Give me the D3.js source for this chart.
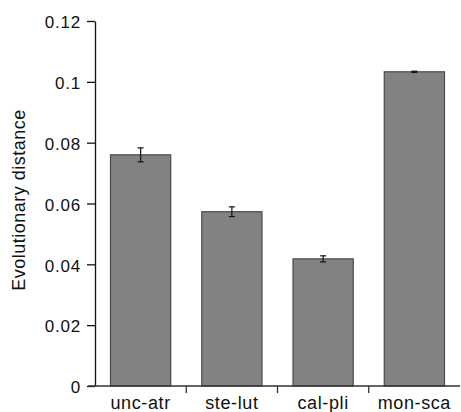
<!DOCTYPE html>
<html>
<head>
<meta charset="utf-8">
<script src="https://cdn.jsdelivr.net/npm/d3@7"></script>
<style>
	body { margin: 0; background: #fff; }
	text { font-family: "Liberation Sans", Arial, sans-serif; fill: #111; }
</style>
</head>
<body>
<svg id="chart" width="461" height="412"></svg>
<script>
var pairs = ["unc-atr", "ste-lut", "cal-pli", "mon-sca"];
var distance = [0.0760, 0.0573, 0.0418, 0.1033];
var errors = [0.0023, 0.0016, 0.0010, 0.0002];
var yTicks = [0, 0.02, 0.04, 0.06, 0.08, 0.1, 0.12];

var svg = d3.select("#chart");
var mLeft = 95, mRight = 460, mTop = 21, mBottom = 386;

var x = d3.scaleBand()
	.domain(pairs)
	.range([mLeft, mRight])
	.paddingInner(0.34)
	.paddingOuter(0.17);
var y = d3.scaleLinear().domain([0, 0.12]).range([mBottom, mTop]);

// bars
svg.selectAll(".bar")
	.data(pairs)
	.enter()
	.append("rect")
	.attr("class", "bar")
	.attr("x", function(d){ return x(d); })
	.attr("y", function(d, i){ return y(distance[i]); })
	.attr("width", x.bandwidth())
	.attr("height", function(d, i){ return y(0) - y(distance[i]); })
	.attr("fill", "#828282")
	.attr("stroke", "#4a4a4a")
	.attr("stroke-width", 1.2);

// error bars
var err = svg.selectAll(".err")
	.data(pairs)
	.enter()
	.append("g")
	.attr("class", "err")
	.attr("stroke", "#111")
	.attr("stroke-width", 1.2);
err.append("line")
	.attr("x1", function(d){ return x(d) + x.bandwidth() / 2; })
	.attr("x2", function(d){ return x(d) + x.bandwidth() / 2; })
	.attr("y1", function(d, i){ return y(distance[i] + errors[i]); })
	.attr("y2", function(d, i){ return y(distance[i] - errors[i]); });
[1, -1].forEach(function(s){
	err.append("line")
		.attr("x1", function(d){ return x(d) + x.bandwidth() / 2 - 3; })
		.attr("x2", function(d){ return x(d) + x.bandwidth() / 2 + 3; })
		.attr("y1", function(d, i){ return y(distance[i] + s * errors[i]); })
		.attr("y2", function(d, i){ return y(distance[i] + s * errors[i]); });
});

// y axis
var yAxis = svg.append("g")
	.attr("transform", "translate(" + mLeft + ",0)")
	.call(d3.axisLeft(y).tickValues(yTicks).tickSize(8).tickSizeOuter(0)
		.tickFormat(function(d){ return d === 0 ? "0" : String(+d.toFixed(2)); }));
yAxis.selectAll("text")
	.style("font-size", "17px")
	.style("letter-spacing", "0.8px")
	.attr("x", -14)
	.attr("dy", "0.4em");
yAxis.select(".domain").attr("stroke", "#111").attr("stroke-width", 1.3);
yAxis.selectAll(".tick line").attr("stroke", "#111").attr("stroke-width", 1.3);

// x axis
var xAxis = svg.append("g")
	.attr("transform", "translate(0," + mBottom + ")");
xAxis.append("line")
	.attr("x1", mLeft - 7).attr("x2", mRight)
	.attr("stroke", "#333").attr("stroke-width", 1.3);
xAxis.selectAll(".sep")
	.data(pairs.slice(1))
	.enter()
	.append("line")
	.attr("x1", function(d){ return x(d) - x.step() * x.paddingInner() / 2; })
	.attr("x2", function(d){ return x(d) - x.step() * x.paddingInner() / 2; })
	.attr("y1", 0).attr("y2", 7)
	.attr("stroke", "#333").attr("stroke-width", 1.3);
xAxis.selectAll(".lab")
	.data(pairs)
	.enter()
	.append("text")
	.attr("x", function(d){ return x(d) + x.bandwidth() / 2; })
	.attr("y", 23)
	.attr("text-anchor", "middle")
	.style("font-size", "18px")
	.style("letter-spacing", "0.6px")
	.text(function(d){ return d; });

// y label
svg.append("text")
	.attr("transform", "translate(25,200) rotate(-90)")
	.attr("text-anchor", "middle")
	.style("font-size", "18px")
	.style("letter-spacing", "0.5px")
	.text("Evolutionary distance");
</script>
</body>
</html>
